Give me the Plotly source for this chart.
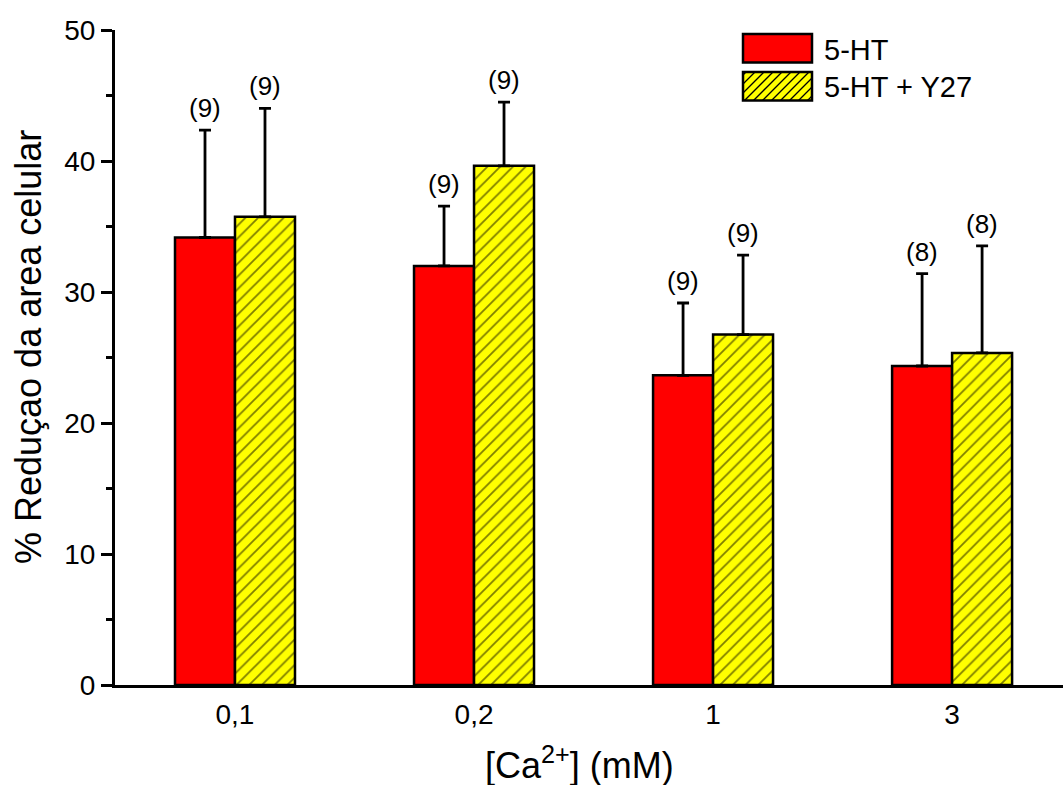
import plotly.graph_objects as go

# ---- data ----
categories = ["0,1", "0,2", "1", "3"]
ht_mean = [34.16, 31.99, 23.64, 24.35]
ht_err = [8.2, 4.56, 5.52, 7.06]
y27_mean = [35.74, 39.63, 26.75, 25.35]
y27_err = [8.28, 4.87, 6.06, 8.17]
ht_n = ["(9)", "(9)", "(9)", "(8)"]
y27_n = ["(9)", "(9)", "(9)", "(8)"]
series_names = ["5-HT", "5-HT + Y27"]

FONT = "Liberation Sans, Arial, sans-serif"
W, H = 1063, 785
ML, MR, MT, MB = 115, 0, 30, 100
PW, PH = W - ML - MR, H - MT - MB

def px2x(px):
    return (px - ML) / PW

def py2y(py):
    return (H - MB - py) / PH

fig = go.Figure()
fig.add_trace(go.Bar(
    x=categories, y=ht_mean, name=series_names[0],
    marker=dict(color="#ff0000", line=dict(color="black", width=2.5)),
    error_y=dict(type="data", array=ht_err, arrayminus=[0]*4, symmetric=False,
                 color="black", thickness=2.8, width=6),
    showlegend=False,
))
fig.add_trace(go.Bar(
    x=categories, y=y27_mean, name=series_names[1],
    marker=dict(color="#ffff00", line=dict(color="black", width=2.5),
                pattern=dict(shape="/", fgcolor="black", bgcolor="#ffff00",
                             size=9, solidity=0.2)),
    error_y=dict(type="data", array=y27_err, arrayminus=[0]*4, symmetric=False,
                 color="black", thickness=2.8, width=6),
    showlegend=False,
))

annotations = []
for i, (m, e, n) in enumerate(zip(ht_mean, ht_err, ht_n)):
    annotations.append(dict(x=i, y=m + e, text=n, showarrow=False, xshift=-30,
                            yanchor="bottom", yshift=5, font=dict(size=26, family=FONT, color="black")))
for i, (m, e, n) in enumerate(zip(y27_mean, y27_err, y27_n)):
    annotations.append(dict(x=i, y=m + e, text=n, showarrow=False, xshift=30,
                            yanchor="bottom", yshift=5, font=dict(size=26, family=FONT, color="black")))

# axis titles
annotations.append(dict(xref="paper", yref="paper", x=px2x(28), y=py2y(347),
                        text="% Reduçao da area celular", textangle=-90, showarrow=False,
                        xanchor="center", yanchor="middle",
                        font=dict(size=36, family=FONT, color="black")))
annotations.append(dict(xref="paper", yref="paper", x=px2x(579), y=py2y(763),
                        text="[Ca<sup>2+</sup>] (mM)", showarrow=False,
                        xanchor="center", yanchor="middle",
                        font=dict(size=36, family=FONT, color="black")))

# legend (manual)
shapes = []
bx0, bx1 = 743, 812
boxes = [(34, 62.5, "#ff0000", False), (72, 100.5, "#ffff00", True)]
for (y0, y1, col, hatch) in boxes:
    shapes.append(dict(type="rect", xref="paper", yref="paper",
                       x0=px2x(bx0), x1=px2x(bx1), y0=py2y(y1), y1=py2y(y0),
                       fillcolor=col, line=dict(width=0), layer="above"))
    if hatch:
        path = ""
        s = 9
        k = bx0 + y0 + 3
        while k < bx1 + y1:
            xa = max(bx0, k - y1)
            xb = min(bx1, k - y0)
            if xb > xa:
                path += f"M{px2x(xa)},{py2y(k - xa)} L{px2x(xb)},{py2y(k - xb)} "
            k += s
        shapes.append(dict(type="path", xref="paper", yref="paper", path=path,
                           line=dict(color="black", width=1.3), layer="above"))
    shapes.append(dict(type="rect", xref="paper", yref="paper",
                       x0=px2x(bx0), x1=px2x(bx1), y0=py2y(y1), y1=py2y(y0),
                       fillcolor="rgba(0,0,0,0)", line=dict(color="black", width=2.5), layer="above"))

for name, yc in zip(series_names, [49.5, 87]):
    annotations.append(dict(xref="paper", yref="paper", x=px2x(822), y=py2y(yc),
                            text=name, showarrow=False, xanchor="left", yanchor="middle",
                            font=dict(size=29, family=FONT, color="black")))

fig.update_layout(
    width=W, height=H,
    margin=dict(l=ML, r=MR, t=MT, b=MB),
    paper_bgcolor="white", plot_bgcolor="white",
    barmode="group", bargap=0.498, bargroupgap=0,
    font=dict(family=FONT, color="black"),
    annotations=annotations, shapes=shapes,
    showlegend=False,
)
fig.update_xaxes(
    type="category", range=[-0.502, 3.464],
    showline=True, linecolor="black", linewidth=3,
    ticks="", ticklabelstandoff=2,
    tickfont=dict(size=28, family=FONT, color="black"),
    showgrid=False, zeroline=False,
)
fig.update_yaxes(
    range=[0, 50], dtick=10, tick0=0,
    showline=True, linecolor="black", linewidth=3,
    ticks="outside", ticklen=11, tickwidth=2.5, tickcolor="black",
    minor=dict(dtick=5, ticks="outside", ticklen=6, tickwidth=2.5, tickcolor="black", showgrid=False),
    ticklabelstandoff=0,
    tickfont=dict(size=28, family=FONT, color="black"),
    showgrid=False, zeroline=False,
)

fig.write_html("out.html", config={"displayModeBar": False},
               post_script="document.body.style.margin='0';document.body.style.padding='0';")
